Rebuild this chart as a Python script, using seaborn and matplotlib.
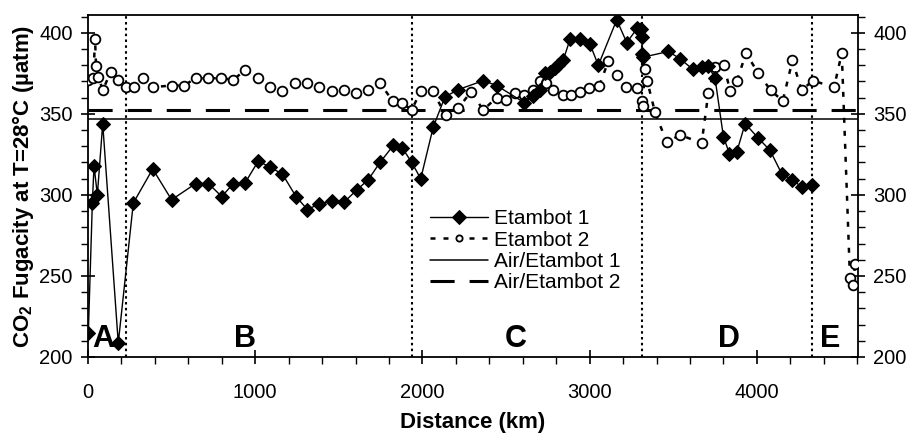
import numpy as np
import pandas as pd
import matplotlib
matplotlib.use("Agg")
import matplotlib.pyplot as plt
import seaborn as sns
from matplotlib.ticker import MultipleLocator

# ---- data ----
e1_km = [2, 26, 36, 56, 88, 181, 271, 387, 500, 644, 720, 800, 869, 940,
         1019, 1088, 1162, 1244, 1312, 1383, 1457, 1531, 1607, 1677, 1746,
         1826, 1880, 1936, 1990, 2065, 2135, 2215, 2364, 2444, 2608, 2663,
         2703, 2733, 2763, 2793, 2813, 2843, 2883, 2943, 3002, 3052, 3162,
         3222, 3286, 3306, 3312, 3315, 3321, 3471, 3541, 3617, 3670, 3710,
         3750, 3800, 3836, 3880, 3930, 4009, 4079, 4149, 4208, 4268, 4328]
e1_fco2 = [215, 295, 318, 300, 344, 208.6, 295, 316, 297, 307, 307, 299, 307, 307.5,
           321, 317, 313, 299, 291, 294.5, 296, 295.5, 303, 309.5, 320,
           330.5, 329, 320, 310, 342, 360.5, 365, 370.5, 367.5, 357, 361,
           364.5, 375, 376, 378, 380, 383.5, 396, 396, 393, 380, 408,
           394, 403, 402.5, 397.5, 387, 385, 388.5, 384, 377.5, 379, 379.5,
           372, 336, 325.5, 326.5, 344, 335, 327.5, 313, 309.5, 305, 306]

e2_km = [2, 32, 42, 48, 62, 88, 136, 181, 227, 277, 331, 387, 500, 574, 644,
         720, 795, 869, 939, 1019, 1088, 1162, 1238, 1308, 1382, 1457, 1531,
         1603, 1677, 1746, 1822, 1880, 1936, 1990, 2061, 2141, 2215, 2289,
         2364, 2444, 2500, 2554, 2608, 2663, 2703, 2739, 2779, 2843, 2887,
         2943, 2998, 3058, 3112, 3166, 3218, 3282, 3311, 3317, 3331, 3345,
         3391, 3461, 3541, 3670, 3710, 3750, 3804, 3840, 3880, 3935, 4009,
         4083, 4155, 4213, 4268, 4334, 4462, 4508, 4557, 4577, 4587]
e2_fco2 = [371, 372, 396.5, 379.5, 373, 364.5, 376, 371, 366.5, 366.5, 372, 366.5, 367.5, 367.5, 372,
           372, 372, 371, 377, 372, 366.5, 364, 369, 369, 366.5, 364, 365,
           363, 365, 369, 358, 356.5, 352.5, 364, 364, 349, 353.5, 363.5,
           352.5, 360, 358.5, 363, 361.5, 365, 370, 369, 365, 361.5, 361.5,
           363.5, 366, 367.5, 382.5, 374, 366.5, 366, 358, 355, 377.5, 370,
           351, 332.5, 337, 332, 363, 379, 380, 364, 370, 387.5, 375,
           364.5, 358, 383, 364.5, 370.5, 366.5, 387.5, 248.5, 244.5, 257.5]

air_e1 = 347.0
air_e2 = 352.5
zone_bounds_km = [227, 1935, 3311, 4328]
zone_names = ["A", "B", "C", "D", "E"]
zone_name_km = [90, 939, 2560, 3836, 4438]
zone_name_y = 211

# ---- style ----
sns.set_style("ticks")
plt.rcParams['font.family'] = ['Liberation Sans', 'DejaVu Sans']
plt.rcParams['mathtext.fontset'] = 'custom'
plt.rcParams['mathtext.rm'] = 'Liberation Sans'
plt.rcParams['mathtext.bf'] = 'Liberation Sans:bold'
plt.rcParams['axes.edgecolor'] = 'black'
plt.rcParams['axes.labelcolor'] = 'black'
plt.rcParams['text.color'] = 'black'
plt.rcParams['xtick.color'] = 'black'
plt.rcParams['ytick.color'] = 'black'
plt.rcParams['xtick.labelcolor'] = 'black'
plt.rcParams['ytick.labelcolor'] = 'black'

fig = plt.figure(figsize=(9.15, 4.34), dpi=100)
ax = fig.add_axes([88/915, 1 - 357/434, (858 - 88)/915, (357 - 15)/434])

df1 = pd.DataFrame({'km': e1_km, 'fco2': e1_fco2})
df2 = pd.DataFrame({'km': e2_km, 'fco2': e2_fco2})

sns.lineplot(data=df1, x='km', y='fco2', ax=ax, color='black', lw=1.0,
             marker='D', markersize=7.2, markerfacecolor='black',
             markeredgecolor='black', estimator=None, sort=False,
             label='Etambot 1', zorder=5)
sns.lineplot(data=df2, x='km', y='fco2', ax=ax, color='black', lw=1.8,
             linestyle=(0, (2.0, 3.2)), marker='o', markersize=7,
             markerfacecolor='white', markeredgecolor='black',
             markeredgewidth=1.3, estimator=None, sort=False,
             label='Etambot 2', zorder=4)
ax.axhline(air_e1, color='black', lw=1.1, label='Air/Etambot 1', zorder=2)
ax.axhline(air_e2, color='black', lw=2.2, linestyle=(0, (7.9, 4.9)),
           label='Air/Etambot 2', zorder=2)
for b in zone_bounds_km:
    ax.axvline(b, color='black', lw=1.5, linestyle=(0, (1.2, 1.6)), zorder=1)

for name, xk in zip(zone_names, zone_name_km):
    ax.text(xk, zone_name_y, name, fontsize=22, fontweight='bold',
            color='black', ha='center', va='center', zorder=6)

ax.set_xlim(0, 4605)
ax.set_ylim(200, 411)
ax.xaxis.set_major_locator(MultipleLocator(1000))
ax.xaxis.set_minor_locator(MultipleLocator(200))
ax.yaxis.set_major_locator(MultipleLocator(50))
ax.yaxis.set_minor_locator(MultipleLocator(10))
ax.tick_params(axis='both', which='major', direction='inout', length=10,
               width=1.2, labelsize=14.5, labelcolor='black', color='black')
ax.tick_params(axis='both', which='minor', direction='out', length=5,
               width=1.0, color='black')
ax.tick_params(axis='y', which='both', left=True, right=True,
               labelleft=True, labelright=True, pad=6)
ax.tick_params(axis='x', which='both', top=False, bottom=True, pad=14)
for s in ax.spines.values():
    s.set_linewidth(1.3)
    s.set_visible(True)
    s.set_color('black')

ax.set_xlabel('Distance (km)', fontsize=16, fontweight='bold', labelpad=7,
              color='black')
ax.set_ylabel(r'CO$_\mathbf{2}$ Fugacity at T=28°C (µatm)', fontsize=16,
              fontweight='bold', labelpad=2, color='black')

leg = ax.legend(loc='upper left', bbox_to_anchor=(430/915, 1 - 209/434),
                bbox_transform=fig.transFigure, frameon=False, fontsize=15,
                handlelength=2.8, handletextpad=0.25, labelspacing=0.12,
                borderpad=0, borderaxespad=0)
for t in leg.get_texts():
    t.set_color('black')
leg.legend_handles[1].set_markersize(4.5)

fig.savefig('out.png', dpi=100)
